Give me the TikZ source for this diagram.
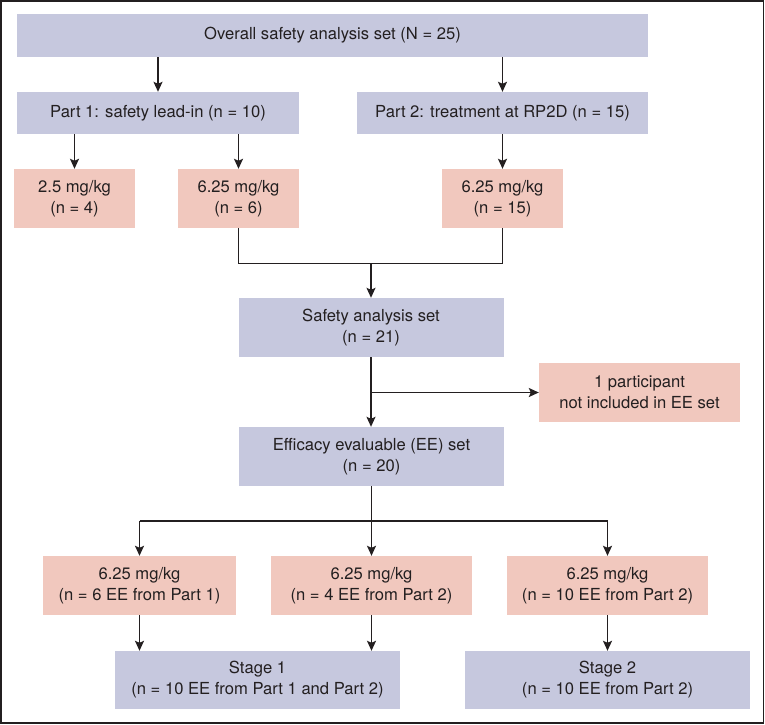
\documentclass[tikz,border=0pt]{standalone}
\usepackage{fontspec}
\setmainfont{TeX Gyre Heros}
\usetikzlibrary{arrows.meta}
\definecolor{lav}{RGB}{198,200,222}
\definecolor{pnk}{RGB}{241,200,190}
\definecolor{ink}{RGB}{35,31,32}
\tikzset{
  bx/.style={inner sep=0pt, align=center, text=ink, font=\fontsize{16.6}{21}\selectfont},
  lavbox/.style={bx, fill=lav},
  pnkbox/.style={bx, fill=pnk},
  ln/.style={draw=ink, line width=1.5pt},
  arr/.style={ln, -{Stealth[length=10pt,width=9pt,inset=2pt]}},
}
\begin{document}
\begin{tikzpicture}[x=1pt,y=-1pt]
\useasboundingbox (0,0) rectangle (765,724);
\draw[ink, line width=1.6pt] (1,1) rectangle (763.5,723);
\node[lavbox, minimum width=631pt, minimum height=43pt] (top) at (332.5,35.5) {Overall safety analysis set (N = 25)};
\node[lavbox, minimum width=282pt, minimum height=42pt] (p1) at (158,113) {Part 1: safety lead-in (n = 10)};
\node[lavbox, minimum width=291pt, minimum height=42pt] (p2) at (502.5,113) {Part 2: treatment at RP2D (n = 15)};
\node[pnkbox, minimum width=121pt, minimum height=59pt] (d1) at (74.5,198.5) {2.5 mg/kg\\(n = 4)};
\node[pnkbox, minimum width=121pt, minimum height=59pt] (d2) at (238.5,198.5) {6.25 mg/kg\\(n = 6)};
\node[pnkbox, minimum width=121pt, minimum height=59pt] (d3) at (502.5,198.5) {6.25 mg/kg\\(n = 15)};
\node[lavbox, minimum width=265pt, minimum height=59pt] (saf) at (371,327.5) {Safety analysis set\\(n = 21)};
\node[pnkbox, minimum width=201pt, minimum height=59pt] (exc) at (639.5,392.5) {1 participant\\not included in EE set};
\node[lavbox, minimum width=265pt, minimum height=59pt] (ee) at (371.5,456.5) {Efficacy evaluable (EE) set\\(n = 20)};
\node[pnkbox, minimum width=193pt, minimum height=59pt] (e1) at (139.5,585.5) {6.25 mg/kg\\(n = 6 EE from Part 1)};
\node[pnkbox, minimum width=201pt, minimum height=59pt] (e2) at (371.5,585.5) {6.25 mg/kg\\(n = 4 EE from Part 2)};
\node[pnkbox, minimum width=201pt, minimum height=59pt] (e3) at (607.5,585.5) {6.25 mg/kg\\(n = 10 EE from Part 2)};
\node[lavbox, minimum width=285pt, minimum height=58pt] (s1) at (257.5,680) {Stage 1\\(n = 10 EE from Part 1 and Part 2)};
\node[lavbox, minimum width=285pt, minimum height=58pt] (s2) at (607.5,680) {Stage 2\\(n = 10 EE from Part 2)};
% connectors
\draw[arr] (top.south -| p1.north) -- (p1.north);
\draw[arr] (top.south -| p2.north) -- (p2.north);
\draw[arr] (p1.south -| d1.north) -- (d1.north);
\draw[arr] (p1.south -| d2.north) -- (d2.north);
\draw[arr] (p2.south) -- (d3.north);
\coordinate (j1) at (371,263.5);
\draw[ln] (d2.south) |- (j1) -| (d3.south);
\draw[arr] (j1) -- (saf.north);
\draw[arr] (saf.south) -- (saf.south |- ee.north);
\coordinate (b1) at (saf.south |- exc.west);
\draw[arr] (b1) -- (exc.west);
\coordinate (j2) at (371.5,521);
\draw[ln] (e1.north |- j2) -- (e3.north |- j2);
\draw[arr] (ee.south) -- (e2.north);
\draw[arr] (e1.north |- j2) -- (e1.north);
\draw[arr] (e3.north |- j2) -- (e3.north);
\draw[arr] (e1.south) -- (e1.south |- s1.north);
\draw[arr] (e2.south) -- (e2.south |- s1.north);
\draw[arr] (e3.south) -- (s2.north);
\end{tikzpicture}
\end{document}
